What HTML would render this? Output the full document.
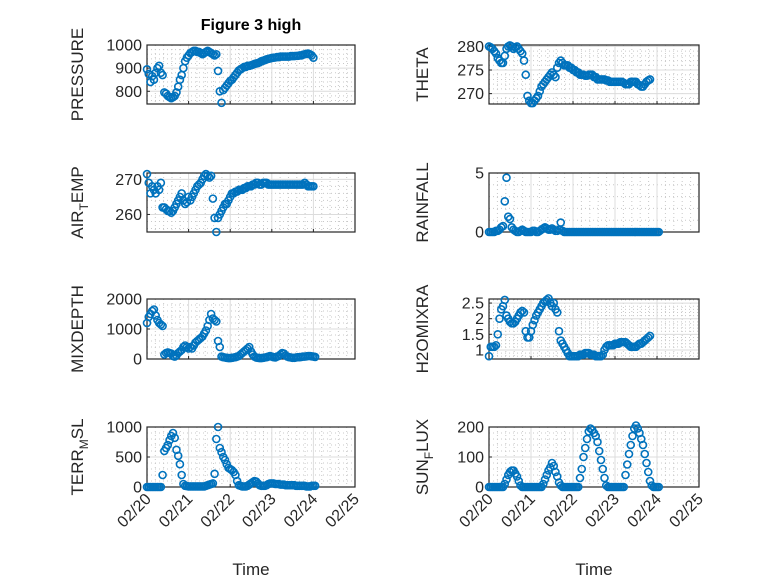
<!DOCTYPE html>
<html><head><meta charset="utf-8"><style>
html,body{margin:0;padding:0;background:#fff}
svg{display:block;font-family:"Liberation Sans",sans-serif}
</style></head><body>
<svg id="fig" width="778" height="583" viewBox="0 0 778 583" xmlns="http://www.w3.org/2000/svg">
<text x="251" y="30" text-anchor="middle" font-size="16" font-weight="bold" fill="#000">Figure 3 high</text>
</svg>
<script>
// hourly samples starting 02/20 00:00
const dayTicks = ["02/20","02/21","02/22","02/23","02/24","02/25"];
const pressure = [895,875,840,865,850,880,900,910,880,870,795,790,780,775,770,775,780,795,820,850,870,900,930,945,955,965,970,975,975,970,970,965,960,965,970,975,970,965,960,955,960,888,800,750,805,815,825,835,845,850,860,870,880,890,895,900,905,905,910,910,912,915,918,920,922,925,930,932,935,938,940,942,944,945,946,948,948,950,950,950,950,950,950,952,952,952,953,953,955,955,958,960,962,963,960,955,945];
const airTemp = [271.5,269,266,268,267,266,268,267,269,262,262,261.5,261,261,260.5,261,262,263,264,265,266,264,263,263.5,265,264,265,266,267,268,268.5,269,270,271,271.5,271,270.5,271,264.5,259,255,259,260,261,262,263,263,264,265,266,266,266.5,266.5,267,267,267,267.5,267.5,268,268,268,268.5,268.5,269,269,268.5,268.5,269,269,269,268.5,268.5,268.5,268.5,268.5,268.5,268.5,268.5,268.5,268.5,268.5,268.5,268.5,268.5,268.5,268.5,268.5,268.5,268.5,268.5,268.5,269,268.5,268,268,268,268];
const theta = [280,279.8,279.5,279,278.5,277.5,277,276.5,276.5,278,279.5,280,280.2,280,279.5,279.8,280,279.5,279,278.5,277,274,269.5,268.5,268,268,268.5,269,269.5,270.5,271.5,272,272.5,273,273.5,274,274.5,274,273.5,275.5,276.5,277,276.5,276,276,276,275.5,275.5,275,275,274.5,274.5,274,274,274,273.8,273.8,274,274,274,273.5,273.5,273,273,273,273,273,272.8,272.8,272.5,272.5,272.5,272.5,272.5,272.5,272.5,272.5,272.3,272,272,272,272.5,272.5,272.5,272.5,272,271.8,271.5,271.5,272,272.5,272.8,273];
const rainfall = [0,0,0,0,0.1,0.1,0.2,0.4,0.5,2.6,4.6,1.3,1.1,0.4,0.2,0.1,0,0,0.1,0.2,0.1,0,0,0,0,0.1,0.1,0,0,0.1,0.2,0.3,0.4,0.3,0.2,0.2,0.3,0.2,0.1,0.1,0.2,0.8,0.1,0,0,0,0,0,0,0,0,0,0,0,0,0,0,0,0,0,0,0,0,0,0,0,0,0,0,0,0,0,0,0,0,0,0,0,0,0,0,0,0,0,0,0,0,0,0,0,0,0,0,0,0,0,0,0];
const mixDepth = [1200,1400,1500,1600,1650,1450,1300,1200,1150,1100,150,200,220,200,180,100,80,120,200,250,300,400,450,400,350,400,350,450,550,600,650,700,750,850,950,1100,1300,1500,1350,1300,1250,600,400,80,60,50,40,30,30,40,50,60,80,100,150,200,250,300,350,400,250,150,80,50,40,30,30,40,50,60,80,100,80,60,50,80,100,150,200,180,120,80,60,50,40,40,50,60,60,70,80,80,90,100,100,90,80,70];
const h2oMix = [0.8,1.1,1.1,1.1,1.15,1.5,2.0,2.3,2.4,2.6,2.1,2.0,1.9,1.85,1.85,1.9,2.0,2.1,2.2,2.25,2.2,1.6,1.4,1.4,1.6,1.8,1.95,2.1,2.2,2.3,2.4,2.5,2.55,2.6,2.65,2.5,2.4,2.5,2.3,2.2,1.6,1.3,1.2,1.1,1.0,0.9,0.8,0.8,0.8,0.8,0.8,0.8,0.85,0.85,0.85,0.9,0.9,0.9,0.85,0.85,0.85,0.8,0.8,0.8,0.8,0.85,1.0,1.1,1.15,1.15,1.15,1.15,1.2,1.2,1.2,1.25,1.25,1.25,1.25,1.2,1.15,1.1,1.1,1.1,1.1,1.15,1.2,1.2,1.25,1.3,1.35,1.4,1.45];
const terrMsl = [0,0,0,0,0,0,0,0,0,200,600,650,700,780,850,900,820,620,520,380,200,50,20,15,10,10,10,10,10,10,10,10,10,10,20,30,40,50,60,220,800,1000,650,580,500,450,380,320,300,280,250,200,100,30,20,10,10,10,20,40,60,80,100,90,60,30,20,20,20,30,50,60,60,60,50,50,50,40,40,40,30,30,30,30,30,30,20,20,20,20,20,20,10,10,10,20,20,20];
const sunFlux = [0,0,0,0,0,0,0,0,0,10,25,40,50,55,55,45,35,20,5,0,0,0,0,0,0,0,0,0,0,0,0,10,25,40,55,65,80,70,50,35,15,5,0,0,0,0,0,0,0,0,0,0,30,60,100,130,160,185,195,190,180,170,150,120,90,60,30,5,0,0,0,0,0,0,0,0,0,0,40,75,110,140,170,195,205,195,180,160,140,110,80,50,20,5,0,0,0,0];

const NS="http://www.w3.org/2000/svg";
const svg=document.getElementById('fig');
function mk(tag,attrs,parent){const e=document.createElementNS(NS,tag);for(const k in attrs)e.setAttribute(k,attrs[k]);(parent||svg).appendChild(e);return e;}

const panels=[
 {key:'pressure',data:pressure,x0:147,x1:355,y0:45,y1:104,ymin:745,ymax:1000,ticks:[800,900,1000],minor:20,label:'PRESSURE',bottom:false},
 {key:'theta',data:theta,x0:489,x1:699,y0:45,y1:104,ymin:267.8,ymax:280.3,ticks:[270,275,280],minor:1,label:'THETA',bottom:false},
 {key:'air-temp',data:airTemp,x0:147,x1:355,y0:173,y1:232,ymin:255,ymax:271.8,ticks:[260,270],minor:2,label:'AIR<T>EMP',bottom:false},
 {key:'rainfall',data:rainfall,x0:489,x1:699,y0:173,y1:232,ymin:0,ymax:5,ticks:[0,5],minor:1,label:'RAINFALL',bottom:false},
 {key:'mixdepth',data:mixDepth,x0:147,x1:355,y0:299,y1:359,ymin:0,ymax:2000,ticks:[0,1000,2000],minor:200,label:'MIXDEPTH',bottom:false},
 {key:'h2omixra',data:h2oMix,x0:489,x1:699,y0:299,y1:359,ymin:0.71,ymax:2.63,ticks:[1,1.5,2,2.5],minor:0.1,label:'H2OMIXRA',bottom:false},
 {key:'terr-msl',data:terrMsl,x0:147,x1:355,y0:427,y1:487,ymin:0,ymax:1000,ticks:[0,500,1000],minor:100,label:'TERR<M>SL',bottom:true},
 {key:'sun-flux',data:sunFlux,x0:489,x1:699,y0:427,y1:487,ymin:0,ymax:200,ticks:[0,100,200],minor:20,label:'SUN<F>LUX',bottom:true}
];

panels.forEach(p=>{
 const g=mk('g',{});
 
 
 const xs=d=>p.x0+(p.x1-p.x0)*d/5;
 const ys=v=>p.y1-(p.y1-p.y0)*(v-p.ymin)/(p.ymax-p.ymin);
 for(let d=0;d<5;d+=0.2){const x=xs(d);if(Math.abs(d-Math.round(d))<1e-6)continue;
  mk('line',{x1:x,x2:x,y1:p.y0,y2:p.y1,stroke:'#c8c8c8','stroke-width':1,'stroke-dasharray':'1,3'},g);}
 for(let v=Math.ceil(p.ymin/p.minor)*p.minor;v<=p.ymax;v+=p.minor){
  if(p.ticks.some(t=>Math.abs(t-v)<1e-6))continue;const y=ys(v);
  mk('line',{x1:p.x0,x2:p.x1,y1:y,y2:y,stroke:'#c8c8c8','stroke-width':1,'stroke-dasharray':'1,3'},g);}
 for(let d=1;d<5;d++){const x=xs(d);mk('line',{x1:x,x2:x,y1:p.y0,y2:p.y1,stroke:'#dcdcdc','stroke-width':1},g);}
 p.ticks.forEach(t=>{const y=ys(t);mk('line',{x1:p.x0,x2:p.x1,y1:y,y2:y,stroke:'#dcdcdc','stroke-width':1},g);
  mk('line',{x1:p.x0,x2:p.x0+3,y1:y,y2:y,stroke:'#262626'},g);
  const tl=mk('text',{x:p.x0-5,y:y+5.5,'text-anchor':'end','font-size':16,fill:'#262626'},g);
  
  
  tl.textContent=String(t);});
 for(let d=0;d<=5;d++){const x=xs(d);mk('line',{x1:x,x2:x,y1:p.y1,y2:p.y1-3,stroke:'#262626'},g);
  if(p.bottom){const tx=mk('text',{x:0,y:0,'text-anchor':'end','font-size':16,fill:'#262626',transform:`translate(${x+5},${p.y1+13}) rotate(-45)`},g);
   
   
   tx.textContent=dayTicks[d];}}
 const box=mk('rect',{x:p.x0,y:p.y0,width:p.x1-p.x0,height:p.y1-p.y0,fill:'none',stroke:'#262626','stroke-width':1.2},g);
 
 
 p.data.forEach((v,i)=>{const c=mk('circle',{cx:xs(i/24),cy:ys(v),r:3.5,fill:'none',stroke:'#0072BD','stroke-width':1.6},g);
  
  });
 const cy=(p.y0+p.y1)/2, lx=p.x0===147?83:428;
 const yl=mk('text',{x:0,y:0,'text-anchor':'middle','font-size':17,fill:'#262626',transform:`translate(${lx},${cy}) rotate(-90)`},g);
 
 
 const m=p.label.match(/^(.*)<(.)>(.*)$/);
 if(m){yl.appendChild(document.createTextNode(m[1]));
  const s=mk('tspan',{'font-size':12,dy:5},yl);s.textContent=m[2];
  const r=mk('tspan',{dy:-5},yl);r.textContent=m[3];}
 else yl.textContent=p.label;
 if(p.bottom){const xt=mk('text',{x:(p.x0+p.x1)/2,y:575,'text-anchor':'middle','font-size':17,fill:'#262626'},g);
  
  
  xt.textContent='Time';}
});
</script>
</body></html>
